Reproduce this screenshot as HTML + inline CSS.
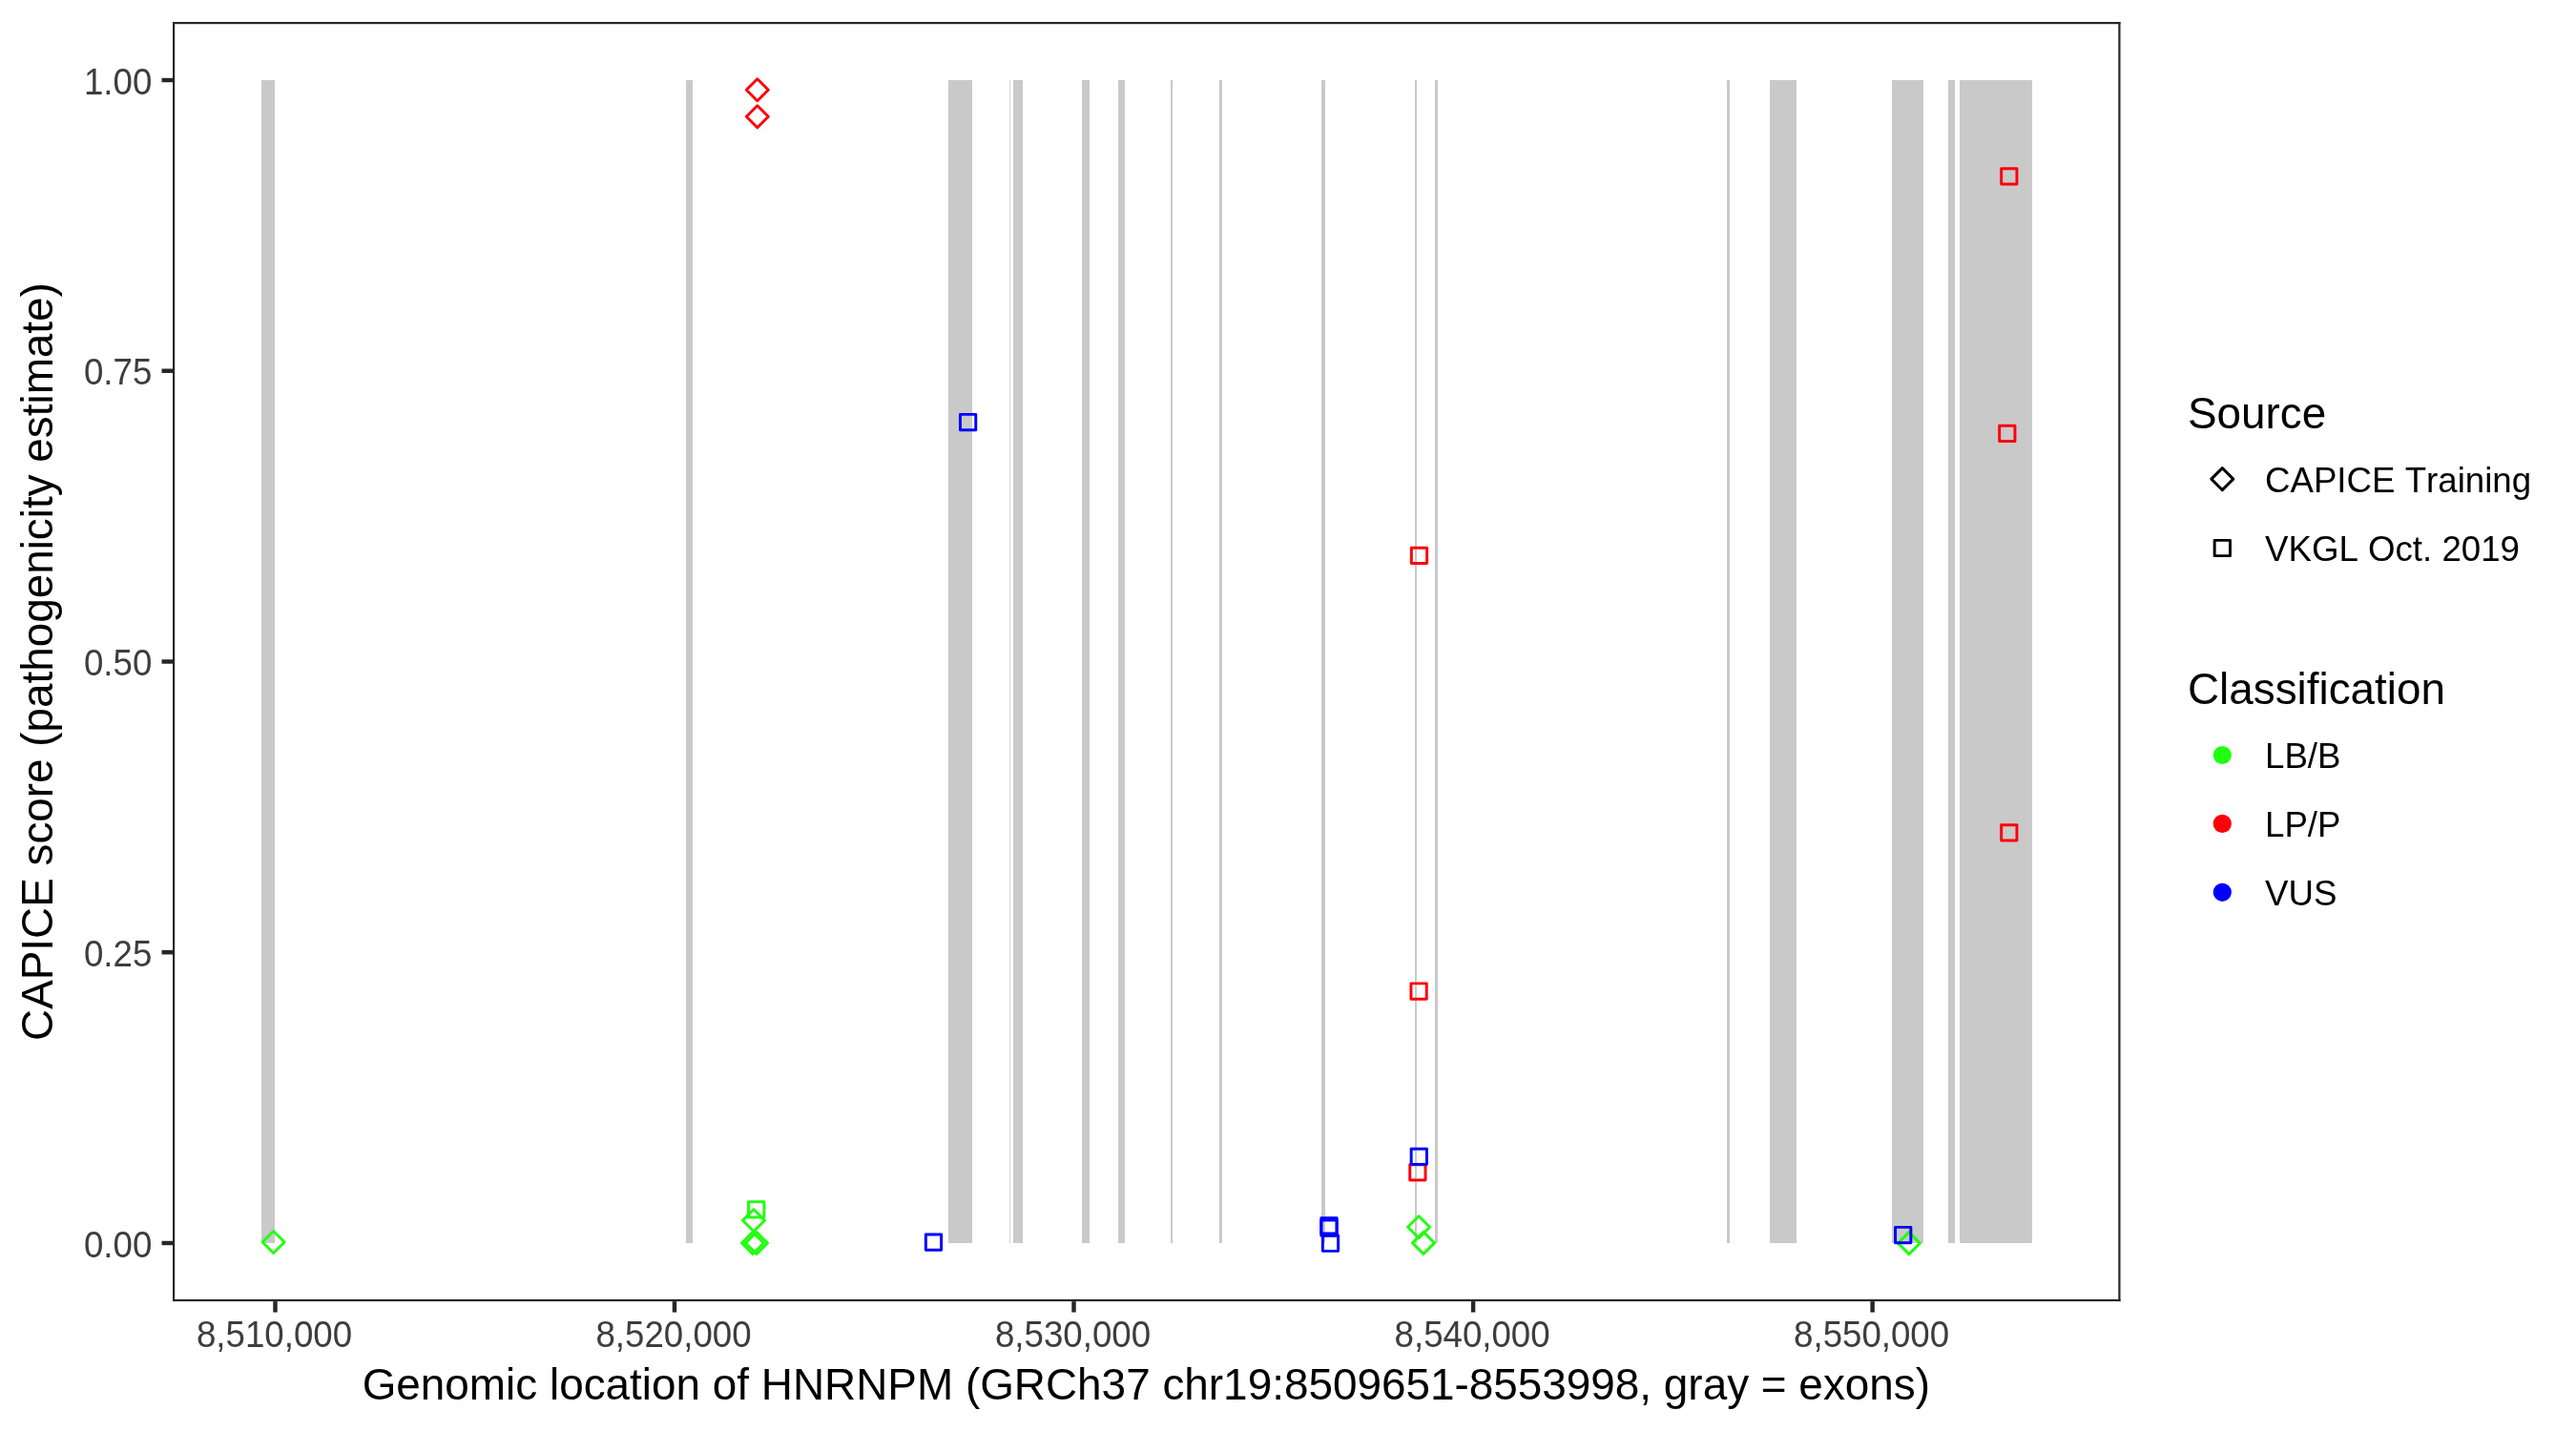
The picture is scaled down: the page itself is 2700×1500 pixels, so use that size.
<!DOCTYPE html>
<html><head><meta charset="utf-8"><title>CAPICE HNRNPM</title>
<style>html,body{margin:0;padding:0;background:#fff;}svg{display:block;}text{font-family:"Liberation Sans",sans-serif;font-kerning:none;}svg{will-change:transform;}</style></head><body>
<svg width="2700" height="1500" viewBox="0 0 2700 1500">
<rect x="0" y="0" width="2700" height="1500" fill="#ffffff"/>
<g fill="#c9c9c9" shape-rendering="crispEdges">
<rect x="274" y="84.0" width="14" height="1219.0"/>
<rect x="719" y="84.0" width="7" height="1219.0"/>
<rect x="994" y="84.0" width="25" height="1219.0"/>
<rect x="1062" y="84.0" width="10" height="1219.0"/>
<rect x="1134" y="84.0" width="8" height="1219.0"/>
<rect x="1172" y="84.0" width="7" height="1219.0"/>
<rect x="1227" y="84.0" width="2" height="1219.0"/>
<rect x="1278" y="84.0" width="3" height="1219.0"/>
<rect x="1385" y="84.0" width="4" height="1219.0"/>
<rect x="1483" y="84.0" width="2" height="1219.0"/>
<rect x="1504" y="84.0" width="3" height="1219.0"/>
<rect x="1810" y="84.0" width="3" height="1219.0"/>
<rect x="1855" y="84.0" width="28" height="1219.0"/>
<rect x="1983" y="84.0" width="33" height="1219.0"/>
<rect x="2042" y="84.0" width="7" height="1219.0"/>
<rect x="2054" y="84.0" width="76" height="1219.0"/>
<rect x="1058" y="84.0" width="1" height="1219.0" fill="#d6d6d6"/>
</g>
<g>
<polygon points="286.60,1290.50 298.10,1302.00 286.60,1313.50 275.10,1302.00" fill="none" stroke="#1fff0f" stroke-width="2.95" stroke-linejoin="round"/>
<rect x="784.55" y="1259.65" width="16.3" height="16.3" fill="none" stroke="#1fff0f" stroke-width="2.95" stroke-linejoin="round"/>
<polygon points="790.00,1267.70 801.50,1279.20 790.00,1290.70 778.50,1279.20" fill="none" stroke="#1fff0f" stroke-width="2.95" stroke-linejoin="round"/>
<polygon points="789.00,1291.50 800.50,1303.00 789.00,1314.50 777.50,1303.00" fill="none" stroke="#1fff0f" stroke-width="2.95" stroke-linejoin="round"/>
<polygon points="793.00,1291.50 804.50,1303.00 793.00,1314.50 781.50,1303.00" fill="none" stroke="#1fff0f" stroke-width="2.95" stroke-linejoin="round"/>
<polygon points="1487.10,1274.80 1498.60,1286.30 1487.10,1297.80 1475.60,1286.30" fill="none" stroke="#1fff0f" stroke-width="2.95" stroke-linejoin="round"/>
<polygon points="1492.00,1291.40 1503.50,1302.90 1492.00,1314.40 1480.50,1302.90" fill="none" stroke="#1fff0f" stroke-width="2.95" stroke-linejoin="round"/>
<polygon points="2000.90,1291.60 2012.40,1303.10 2000.90,1314.60 1989.40,1303.10" fill="none" stroke="#1fff0f" stroke-width="2.95" stroke-linejoin="round"/>
<polygon points="793.80,82.70 805.30,94.20 793.80,105.70 782.30,94.20" fill="none" stroke="#ff0008" stroke-width="2.95" stroke-linejoin="round"/>
<polygon points="793.80,110.70 805.30,122.20 793.80,133.70 782.30,122.20" fill="none" stroke="#ff0008" stroke-width="2.95" stroke-linejoin="round"/>
<rect x="1479.35" y="574.25" width="16.3" height="16.3" fill="none" stroke="#ff0008" stroke-width="2.95" stroke-linejoin="round"/>
<rect x="1478.95" y="1030.85" width="16.3" height="16.3" fill="none" stroke="#ff0008" stroke-width="2.95" stroke-linejoin="round"/>
<rect x="1477.75" y="1220.65" width="16.3" height="16.3" fill="none" stroke="#ff0008" stroke-width="2.95" stroke-linejoin="round"/>
<rect x="2097.65" y="176.65" width="16.3" height="16.3" fill="none" stroke="#ff0008" stroke-width="2.95" stroke-linejoin="round"/>
<rect x="2095.65" y="446.15" width="16.3" height="16.3" fill="none" stroke="#ff0008" stroke-width="2.95" stroke-linejoin="round"/>
<rect x="2097.65" y="864.75" width="16.3" height="16.3" fill="none" stroke="#ff0008" stroke-width="2.95" stroke-linejoin="round"/>
<rect x="970.35" y="1293.95" width="16.3" height="16.3" fill="none" stroke="#0000ff" stroke-width="2.95" stroke-linejoin="round"/>
<rect x="1006.45" y="434.35" width="16.3" height="16.3" fill="none" stroke="#0000ff" stroke-width="2.95" stroke-linejoin="round"/>
<rect x="1384.85" y="1276.65" width="16.3" height="16.3" fill="none" stroke="#0000ff" stroke-width="2.95" stroke-linejoin="round"/>
<rect x="1384.85" y="1279.05" width="16.3" height="16.3" fill="none" stroke="#0000ff" stroke-width="2.95" stroke-linejoin="round"/>
<rect x="1386.35" y="1295.05" width="16.3" height="16.3" fill="none" stroke="#0000ff" stroke-width="2.95" stroke-linejoin="round"/>
<rect x="1479.15" y="1204.25" width="16.3" height="16.3" fill="none" stroke="#0000ff" stroke-width="2.95" stroke-linejoin="round"/>
<rect x="1986.55" y="1286.35" width="16.3" height="16.3" fill="none" stroke="#0000ff" stroke-width="2.95" stroke-linejoin="round"/>
</g>
<g fill="#262626">
<rect x="181.0" y="23.0" width="2041.5" height="2.2"/>
<rect x="181.0" y="1361.8999999999999" width="2041.5" height="2.2"/>
<rect x="181.0" y="23.0" width="2.2" height="1341.1"/>
<rect x="2220.3" y="23.0" width="2.2" height="1341.1"/>
<rect x="169.54" y="81.78" width="11.46" height="4.45"/>
<rect x="169.54" y="386.52" width="11.46" height="4.45"/>
<rect x="169.54" y="691.27" width="11.46" height="4.45"/>
<rect x="169.54" y="996.02" width="11.46" height="4.45"/>
<rect x="169.54" y="1300.78" width="11.46" height="4.45"/>
<rect x="286.27" y="1364.1" width="4.45" height="11.46"/>
<rect x="704.77" y="1364.1" width="4.45" height="11.46"/>
<rect x="1123.28" y="1364.1" width="4.45" height="11.46"/>
<rect x="1541.88" y="1364.1" width="4.45" height="11.46"/>
<rect x="1960.38" y="1364.1" width="4.45" height="11.46"/>
</g>
<g fill="#3d3d3d" font-size="36.67px">
<text transform="translate(159.3,84.70) scale(1,1.06)" x="0" y="13.1" text-anchor="end">1.00</text>
<text transform="translate(159.3,389.45) scale(1,1.06)" x="0" y="13.1" text-anchor="end">0.75</text>
<text transform="translate(159.3,694.20) scale(1,1.06)" x="0" y="13.1" text-anchor="end">0.50</text>
<text transform="translate(159.3,998.95) scale(1,1.06)" x="0" y="13.1" text-anchor="end">0.25</text>
<text transform="translate(159.3,1303.70) scale(1,1.06)" x="0" y="13.1" text-anchor="end">0.00</text>
<text transform="translate(287.50,1398.6) scale(1,1.06)" x="0" y="13.1" text-anchor="middle">8,510,000</text>
<text transform="translate(706.00,1398.6) scale(1,1.06)" x="0" y="13.1" text-anchor="middle">8,520,000</text>
<text transform="translate(1124.50,1398.6) scale(1,1.06)" x="0" y="13.1" text-anchor="middle">8,530,000</text>
<text transform="translate(1543.10,1398.6) scale(1,1.06)" x="0" y="13.1" text-anchor="middle">8,540,000</text>
<text transform="translate(1961.60,1398.6) scale(1,1.06)" x="0" y="13.1" text-anchor="middle">8,550,000</text>
</g>
<g fill="#000000" font-size="45.83px">
<text x="1201.35" y="1466.9" text-anchor="middle" font-size="45.88px">Genomic location of HNRNPM (GRCh37 chr19:8509651-8553998, gray = exons)</text>
<text transform="translate(55,693.55) rotate(-90)" text-anchor="middle">CAPICE score (pathogenicity estimate)</text>
<text x="2293" y="449.0">Source</text>
<text x="2293" y="738.3">Classification</text>
</g>
<polygon points="2329.30,490.60 2340.80,502.10 2329.30,513.60 2317.80,502.10" fill="none" stroke="#000000" stroke-width="2.95" stroke-linejoin="round"/>
<rect x="2321.15" y="566.35" width="16.3" height="16.3" fill="none" stroke="#000000" stroke-width="2.95" stroke-linejoin="round"/>
<circle cx="2329.3" cy="791.5" r="9.6" fill="#1fff0f"/>
<circle cx="2329.3" cy="863.4" r="9.6" fill="#ff0008"/>
<circle cx="2329.3" cy="935.3" r="9.6" fill="#0000ff"/>
<g fill="#000000" font-size="36.67px">
<text x="2374" y="516.1">CAPICE Training</text>
<text x="2374" y="587.9">VKGL Oct. 2019</text>
<text x="2374" y="804.7">LB/B</text>
<text x="2374" y="877.1">LP/P</text>
<text x="2374" y="948.8">VUS</text>
</g>
</svg></body></html>
